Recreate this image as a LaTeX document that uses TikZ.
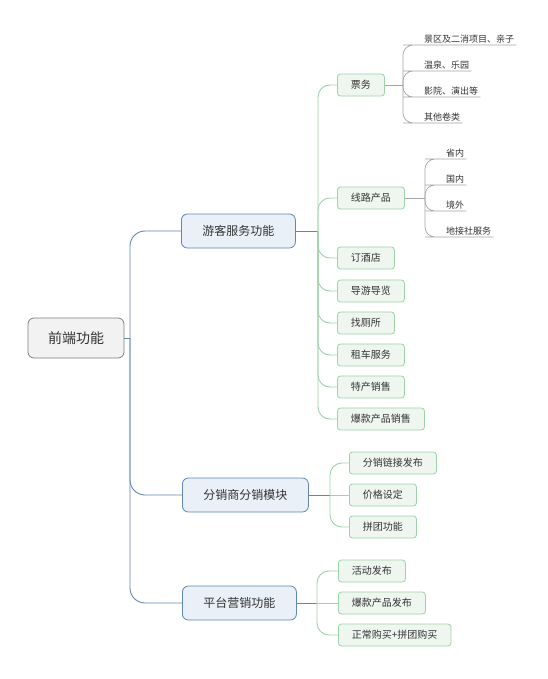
\documentclass[tikz,border=0pt]{standalone}
\usepackage{fontspec}
\setmainfont{Noto Sans CJK SC}
\definecolor{InkGrey}{HTML}{333333}
\definecolor{RootFill}{HTML}{F2F2F2}
\definecolor{RootLine}{HTML}{7F7F7F}
\definecolor{MainFill}{HTML}{E9F0F8}
\definecolor{MainLine}{HTML}{5E87B5}
\definecolor{SubFill}{HTML}{EEF6EF}
\definecolor{SubLine}{HTML}{9DD3A8}
\definecolor{LeafLine}{HTML}{A6A6A6}

\begin{document}
\begin{tikzpicture}[x=1pt,y=-1pt,every node/.style={text=InkGrey},rootbox/.style={draw=RootLine,fill=RootFill,rounded corners=6pt,line width=.8pt,inner xsep=20pt,minimum height=40pt,font=\fontsize{14}{16}\selectfont},mainbox/.style={draw=MainLine,fill=MainFill,rounded corners=6pt,line width=.8pt,inner xsep=21pt,minimum height=34pt,anchor=west,font=\fontsize{12}{14}\selectfont},subbox/.style={draw=SubLine,fill=SubFill,rounded corners=3pt,line width=.8pt,inner xsep=13.5pt,minimum height=22pt,anchor=west,font=\fontsize{10}{12}\selectfont},leaf/.style={anchor=south west,inner xsep=0pt,inner ysep=2pt,font=\fontsize{9}{11}\selectfont},trunk/.style={draw=MainLine,line width=.9pt,rounded corners=15pt},branch/.style={draw=SubLine,line width=.9pt,rounded corners=12pt},twig/.style={draw=LeafLine,line width=.7pt,rounded corners=10pt}]
\fill[white] (0,0) rectangle (547,679);
\useasboundingbox (0,0) rectangle (547,679);
% root and main topics
\node[rootbox] (root) at (76,338) {前端功能};
\node[mainbox] (tour) at (181,231) {游客服务功能};
\node[mainbox] (dist) at (182,495) {分销商分销模块};
\node[mainbox] (mark) at (182,603) {平台营销功能};
\coordinate (rj) at (130,338);
\draw[trunk] (root.east) -- (rj);
\foreach \m in {tour,dist,mark}{\draw[trunk] (rj) |- (\m.west);}
% tourist services
\coordinate (tj) at (318,231);
\draw[trunk] (tour.east) -- (tj);
\foreach \y/\n/\t in {85/piao/票务,198/xian/线路产品,258/hotel/订酒店,291/guide/导游导览,323/wc/找厕所,355/car/租车服务,387/local/特产销售,419/hot/爆款产品销售}{\node[subbox] (\n) at (337,\y) {\t};\draw[branch] (tj) |- (\n.west);}
\coordinate (pj) at (403,85);
\draw[twig] (piao.east) -- (pj);
\foreach \y/\n/\t in {45/pa/景区及二消项目、亲子,71/pb/温泉、乐园,97/pc/影院、演出等,123/pd/其他卷类}{\node[leaf] (\n) at (424,\y) {\t};\draw[twig] (pj) |- ([xshift=-11pt]\n.south west) -- ([xshift=2pt]\n.south east);}
\coordinate (xj) at (425,198);
\draw[twig] (xian.east) -- (xj);
\foreach \y/\n/\t in {159/xa/省内,185/xb/国内,211/xc/境外,237/xd/地接社服务}{\node[leaf] (\n) at (446,\y) {\t};\draw[twig] (xj) |- ([xshift=-11pt]\n.south west) -- ([xshift=2pt]\n.south east);}
% distributor module
\coordinate (dj) at (330,495);
\draw[trunk] (dist.east) -- (dj);
\foreach \y/\n/\t in {463/link/分销链接发布,495/price/价格设定,527/group/拼团功能}{\node[subbox] (\n) at (349,\y) {\t};}
\draw[branch] (dj) |- (link.west);
\draw[branch] (dj) -- (price.west);
\draw[branch] (dj) |- (group.west);
% platform marketing
\coordinate (mj) at (317,603);
\draw[trunk] (mark.east) -- (mj);
\foreach \y/\n/\t in {571/act/活动发布,603/hotpub/爆款产品发布,635/buy/正常购买+拼团购买}{\node[subbox] (\n) at (338,\y) {\t};}
\draw[branch] (mj) |- (act.west);
\draw[branch] (mj) -- (hotpub.west);
\draw[branch] (mj) |- (buy.west);
\end{tikzpicture}
\end{document}
